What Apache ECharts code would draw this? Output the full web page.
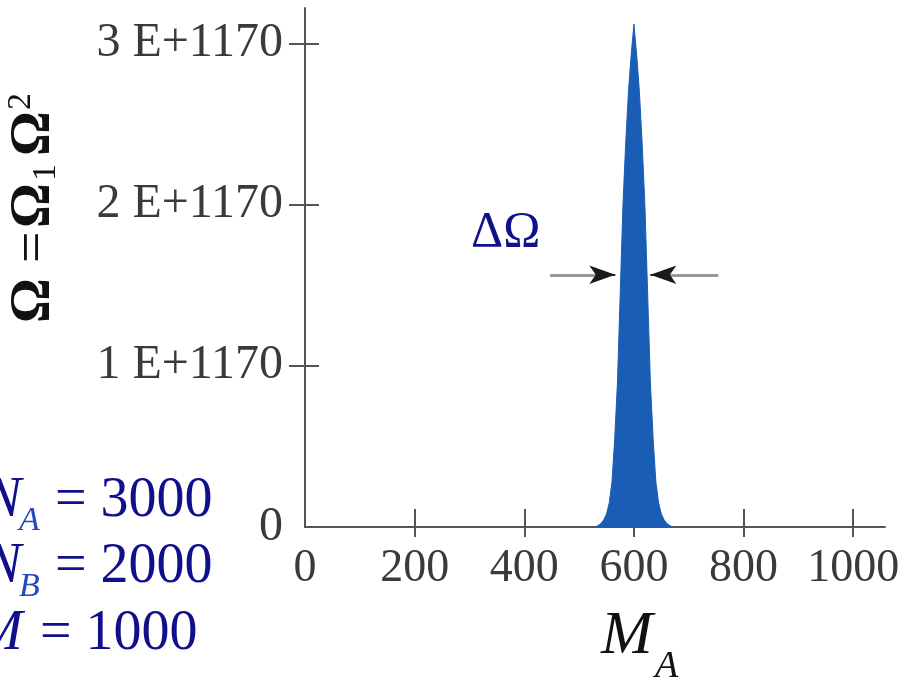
<!DOCTYPE html>
<html>
<head>
<meta charset="utf-8">
<script src="https://cdn.jsdelivr.net/npm/echarts@6/dist/echarts.min.js"></script>
<style>html,body{margin:0;padding:0;background:#fff;}#c{width:903px;height:683px;}</style>
</head>
<body>
<div id="c"></div>
<script>
// M_A values (x) and Omega values in units of 1 E+1170 (y)
const mA = [530,535,540,545,550,555,560,565,570,575,580,585,590,595,600,605,610,615,620,625,630,635,640,645,650,655,660,665,670];
const omega = [0,0.01,0.022,0.045,0.08,0.15,0.28,0.55,0.90,1.45,2.00,2.38,2.70,2.93,3.12,2.93,2.70,2.38,2.00,1.45,0.90,0.55,0.28,0.15,0.08,0.045,0.022,0.01,0];
const xTickValues = [0,200,400,600,800,1000];
const xCrossTicks = [200,400,600,800,1000];
const yTickValues = [0,1,2,3];
const yTickLabels = ['0','1 E+1170','2 E+1170','3 E+1170'];
const yCrossTicks = [1,2,3];
// ΔΩ arrows (M_A from, M_A to, Omega level)
const arrowLevel = 1.565;
const leftArrow = [447, 566];
const rightArrow = [754, 630];

const FONT = 'Liberation Serif';
const AX = '#555';
const chart = echarts.init(document.getElementById('c'));
const seriesData = mA.map((m, i) => [m, omega[i]]);

const xBase = {type:'value', min:0, max:1058, splitLine:{show:false}};
const yBase = {type:'value', min:0, max:3.22, splitLine:{show:false}};

chart.setOption({
  animation:false,
  grid:{left:305, right:18, top:8, bottom:156},
  xAxis:[
    Object.assign({}, xBase, {
      position:'bottom',
      axisLine:{show:true, onZero:false, lineStyle:{color:AX, width:2}},
      axisTick:{show:true, inside:true, length:18, customValues:xCrossTicks, lineStyle:{color:AX, width:2}},
      axisLabel:{show:true, customValues:xTickValues, fontFamily:FONT, fontSize:46, color:'#3a3a3a', margin:19,
        formatter:(v)=>String(v)}
    }),
    Object.assign({}, xBase, {
      position:'bottom',
      axisLine:{show:false, onZero:false},
      axisTick:{show:true, inside:false, length:10, customValues:xCrossTicks, lineStyle:{color:AX, width:2}},
      axisLabel:{show:false}
    })
  ],
  yAxis:[
    Object.assign({}, yBase, {
      position:'left',
      axisLine:{show:true, onZero:false, lineStyle:{color:AX, width:2}},
      axisTick:{show:true, inside:false, length:16, customValues:yCrossTicks, lineStyle:{color:AX, width:2}},
      axisLabel:{show:true, customValues:yTickValues, fontFamily:FONT, fontSize:48, color:'#3a3a3a', margin:22,
        formatter:(v)=>yTickLabels[yTickValues.indexOf(v)]}
    }),
    Object.assign({}, yBase, {
      position:'left',
      axisLine:{show:false, onZero:false},
      axisTick:{show:true, inside:true, length:14, customValues:yCrossTicks, lineStyle:{color:AX, width:2}},
      axisLabel:{show:false}
    })
  ],
  series:[{
    type:'line',
    xAxisIndex:0, yAxisIndex:0,
    data:seriesData,
    showSymbol:false,
    smooth:false,
    lineStyle:{color:'#1a5db5', width:1},
    areaStyle:{color:'#1a5db5', opacity:1},
    z:3,
    markLine:{
      silent:true,
      animation:false,
      label:{show:false},
      data:[
        [{coord:[leftArrow[0], arrowLevel], symbol:'none', lineStyle:{color:'#999', width:3, type:'solid'}},
         {coord:[leftArrow[1]-18, arrowLevel], symbol:'none'}],
        [{coord:[leftArrow[1]-30, arrowLevel], symbol:'none', lineStyle:{color:'#1a1a1a', width:2, type:'solid'}},
         {coord:[leftArrow[1], arrowLevel], symbol:'arrow', symbolSize:[14,26]}],
        [{coord:[rightArrow[0], arrowLevel], symbol:'none', lineStyle:{color:'#999', width:3, type:'solid'}},
         {coord:[rightArrow[1]+18, arrowLevel], symbol:'none'}],
        [{coord:[rightArrow[1]+30, arrowLevel], symbol:'none', lineStyle:{color:'#1a1a1a', width:2, type:'solid'}},
         {coord:[rightArrow[1], arrowLevel], symbol:'arrow', symbolSize:[14,26]}]
      ]
    }
  }],
  graphic:[
    // ΔΩ label
    {type:'text', x:471, y:233, style:{text:'ΔΩ', font:'50px "Liberation Serif"', fill:'#10108c', verticalAlign:'middle', align:'left'}},
    // N_A = 3000
    {type:'text', x:-16, y:501, style:{text:'N', font:'italic 56px "Liberation Serif"', fill:'#10108c', verticalAlign:'middle'}},
    {type:'text', x:19, y:521, style:{text:'A', font:'italic 34px "Liberation Serif"', fill:'#2448c0', verticalAlign:'middle'}},
    {type:'text', x:55, y:501, style:{text:'= 3000', font:'56px "Liberation Serif"', fill:'#10108c', verticalAlign:'middle'}},
    // N_B = 2000
    {type:'text', x:-16, y:567, style:{text:'N', font:'italic 56px "Liberation Serif"', fill:'#10108c', verticalAlign:'middle'}},
    {type:'text', x:19, y:587, style:{text:'B', font:'italic 34px "Liberation Serif"', fill:'#2448c0', verticalAlign:'middle'}},
    {type:'text', x:55, y:567, style:{text:'= 2000', font:'56px "Liberation Serif"', fill:'#10108c', verticalAlign:'middle'}},
    // M = 1000
    {type:'text', x:-24, y:634, style:{text:'M', font:'italic 56px "Liberation Serif"', fill:'#10108c', verticalAlign:'middle'}},
    {type:'text', x:40, y:634, style:{text:'= 1000', font:'56px "Liberation Serif"', fill:'#10108c', verticalAlign:'middle'}},
    // x axis title M_A
    {type:'text', x:601, y:637, style:{text:'M', font:'italic 62px "Liberation Serif"', fill:'#111', verticalAlign:'middle'}},
    {type:'text', x:655, y:667, style:{text:'A', font:'italic 38px "Liberation Serif"', fill:'#111', verticalAlign:'middle'}},
    // y axis title Ω = Ω1Ω2 (rotated)
    {type:'group', x:35, y:323, rotation:Math.PI/2, children:[
      {type:'text', x:0, y:0, style:{text:'Ω', font:'bold 56px "Liberation Serif"', fill:'#111', verticalAlign:'middle'}},
      {type:'text', x:60, y:0, style:{text:'=', font:'56px "Liberation Serif"', fill:'#111', verticalAlign:'middle'}},
      {type:'text', x:95, y:0, style:{text:'Ω', font:'bold 56px "Liberation Serif"', fill:'#111', verticalAlign:'middle'}},
      {type:'text', x:142, y:11, style:{text:'1', font:'34px "Liberation Serif"', fill:'#111', verticalAlign:'middle'}},
      {type:'text', x:167, y:0, style:{text:'Ω', font:'bold 56px "Liberation Serif"', fill:'#111', verticalAlign:'middle'}},
      {type:'text', x:213, y:-14, style:{text:'2', font:'34px "Liberation Serif"', fill:'#111', verticalAlign:'middle'}}
    ]}
  ]
});
</script>
</body>
</html>
